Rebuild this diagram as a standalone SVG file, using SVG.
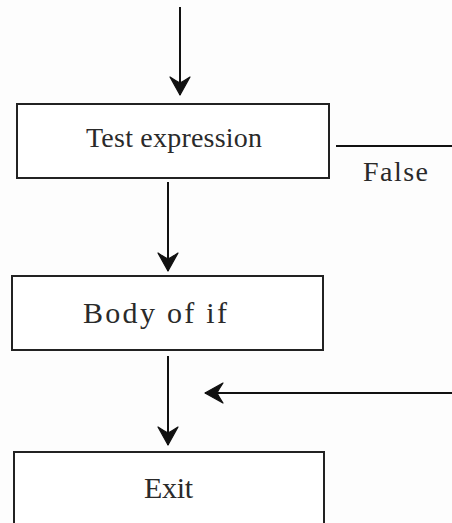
<svg xmlns="http://www.w3.org/2000/svg" width="452" height="523" viewBox="0 0 452 523">
<defs>
<style>
.box{fill:#fff;stroke:#222;stroke-width:2}
.ln{stroke:#111;stroke-width:2;fill:none}
.t{font-family:"Liberation Serif","Times New Roman",serif;fill:#2a2a2a}
</style>
<marker id="ah" markerUnits="userSpaceOnUse" markerWidth="26" markerHeight="26" viewBox="-21 -13 24 26" refX="0" refY="0" orient="auto">
<path d="M0,0 L-18,-10 Q-14,-4 -12,0 Q-14,4 -18,10 Z" fill="#111" stroke="#111" stroke-width="1.2" stroke-linejoin="round"/>
</marker>
</defs>
<rect width="452" height="523" fill="#fdfdfd"/>
<g id="connectors">
<line class="ln" x1="180" y1="7" x2="180" y2="95" marker-end="url(#ah)"/>
<line class="ln" x1="168" y1="182" x2="168" y2="271" marker-end="url(#ah)"/>
<line class="ln" x1="168" y1="356" x2="168" y2="445" marker-end="url(#ah)"/>
<line class="ln" x1="336" y1="146" x2="452" y2="146"/>
<line class="ln" x1="452" y1="393" x2="205" y2="393" marker-end="url(#ah)"/>
<text class="t" x="363" y="181" font-size="28" textLength="65" lengthAdjust="spacing">False</text>
</g>
<g id="test">
<rect class="box" x="17" y="104" width="312" height="74"/>
<text class="t" x="174" y="147" font-size="28" text-anchor="middle" textLength="176" lengthAdjust="spacing">Test expression</text>
</g>
<g id="body">
<rect class="box" x="12" y="276" width="311" height="74"/>
<text class="t" x="155" y="323" font-size="30" text-anchor="middle" textLength="144" lengthAdjust="spacing">Body of if</text>
</g>
<g id="exit">
<rect class="box" x="14" y="452" width="310" height="90"/>
<text class="t" x="168.5" y="498" font-size="30" text-anchor="middle" textLength="49" lengthAdjust="spacing">Exit</text>
</g>
</svg>
